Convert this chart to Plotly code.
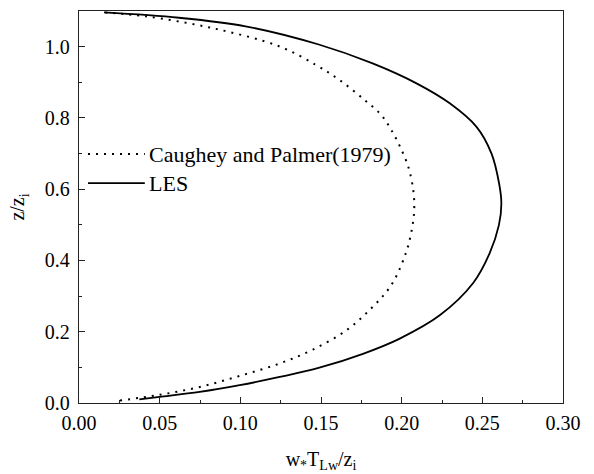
import plotly.graph_objects as go

# LES profile (x = w*T_Lw/z_i, z = z/z_i)
les_x = [0.0374, 0.050, 0.0748, 0.0996, 0.1244, 0.149, 0.176, 0.1985, 0.2236, 0.2442,
         0.2545, 0.2603, 0.2618, 0.2604, 0.2557, 0.2464, 0.2298, 0.2092, 0.182, 0.1486,
         0.1032, 0.062, 0.0155]
les_z = [0.010, 0.017, 0.031, 0.050, 0.073, 0.099, 0.138, 0.180, 0.246, 0.336,
         0.420, 0.500, 0.560, 0.616, 0.700, 0.775, 0.841, 0.897, 0.953, 1.006,
         1.057, 1.081, 1.096]

# Caughey and Palmer (1979)
cp_x = [0.0254, 0.050, 0.0748, 0.0996, 0.1244, 0.145, 0.1657, 0.181, 0.1936, 0.2029,
        0.2066, 0.2078, 0.2072, 0.2041, 0.199, 0.1936, 0.1874, 0.1771, 0.1616, 0.1467,
        0.124, 0.0827, 0.0413, 0.0155]
cp_z = [0.007, 0.023, 0.045, 0.076, 0.111, 0.150, 0.204, 0.265, 0.331, 0.425,
        0.495, 0.545, 0.597, 0.663, 0.719, 0.766, 0.808, 0.850, 0.906, 0.949,
        1.001, 1.052, 1.085, 1.096]

x_ticks = [0.00, 0.05, 0.10, 0.15, 0.20, 0.25, 0.30]
x_labels = ["0.00", "0.05", "0.10", "0.15", "0.20", "0.25", "0.30"]
y_ticks = [0.0, 0.2, 0.4, 0.6, 0.8, 1.0]
y_labels = ["0.0", "0.2", "0.4", "0.6", "0.8", "1.0"]
legend_names = ["Caughey and Palmer(1979)", "LES"]

FONT = "Liberation Serif, Times New Roman, serif"
DOT = "2px,6px"

fig = go.Figure()
fig.add_trace(go.Scatter(x=cp_x, y=cp_z, mode="lines", name=legend_names[0],
                         line=dict(color="black", width=2, dash=DOT, shape="spline", smoothing=1.0),
                         showlegend=False))
fig.add_trace(go.Scatter(x=les_x, y=les_z, mode="lines", name=legend_names[1],
                         line=dict(color="black", width=1.8, shape="spline", smoothing=1.0),
                         showlegend=False))

# legend drawn as shapes + text
leg_y = [0.635, 0.561]
for i, name in enumerate(legend_names):
    fig.add_shape(type="line", xref="paper", yref="paper", x0=0.0186, x1=0.136,
                  y0=leg_y[i], y1=leg_y[i],
                  line=dict(color="black", width=2 if i == 0 else 1.8,
                            dash=DOT if i == 0 else "solid"))
    fig.add_annotation(xref="paper", yref="paper", x=0.141, y=leg_y[i], text=name,
                       showarrow=False, xanchor="left", yanchor="middle",
                       font=dict(family=FONT, size=22, color="black"))

axis_common = dict(showgrid=False, zeroline=False, showline=True, linecolor="#222",
                   linewidth=1.3, mirror=True, ticks="inside", ticklen=6, tickwidth=1.2,
                   tickcolor="#222", automargin=False,
                   tickfont=dict(family=FONT, size=20, color="black"))

fig.update_xaxes(range=[0, 0.30], tickvals=x_ticks, ticktext=x_labels,
                 ticklabelstandoff=2,
                 minor=dict(ticks="inside", ticklen=3, tickwidth=1, tickcolor="#222", dtick=0.025),
                 title=dict(text="w<sub>*</sub>T<sub>Lw</sub>/z<sub>i</sub>",
                            font=dict(family=FONT, size=20, color="black"), standoff=18),
                 **axis_common)
fig.update_yaxes(range=[0, 1.1], tickvals=y_ticks, ticktext=y_labels,
                 ticklabelstandoff=4,
                 minor=dict(ticks="inside", ticklen=3, tickwidth=1, tickcolor="#222", dtick=0.1),
                 title=dict(text="z/z<sub>i</sub>",
                            font=dict(family=FONT, size=20, color="black"), standoff=14),
                 **axis_common)

fig.update_layout(width=594, height=474, plot_bgcolor="white", paper_bgcolor="white",
                  font=dict(family=FONT, color="black"),
                  margin=dict(l=79, r=31, t=11, b=71), showlegend=False)

fig.write_html("out.html", config={"displayModeBar": False},
               post_script="document.body.style.margin='0';document.body.style.overflow='hidden';")
